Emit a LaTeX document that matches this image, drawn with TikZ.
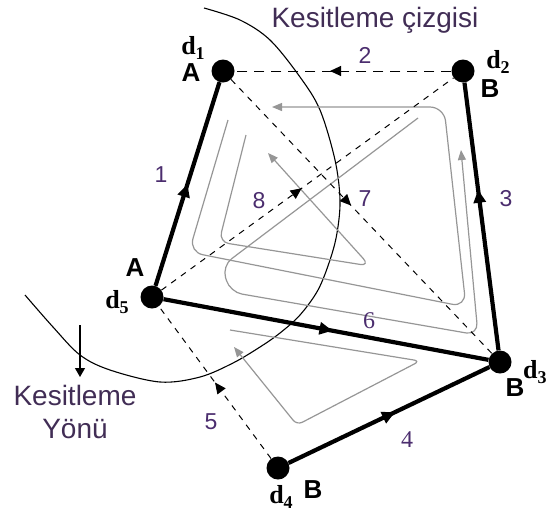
\documentclass[tikz,border=0pt]{standalone}
\usepackage{fontspec}
\setmainfont{Liberation Sans}
\newfontfamily\serifb{Liberation Serif}
\usetikzlibrary{arrows.meta,decorations.markings}
\definecolor{numc}{RGB}{75,45,110}
\definecolor{txtc}{RGB}{65,45,85}
\definecolor{grayl}{RGB}{150,150,150}
\newcommand\dlab[1]{d\raisebox{-5pt}{\fontsize{18}{18}\selectfont #1}}
\begin{document}
\begin{tikzpicture}[x=1pt,y=-1pt,
  dot/.style={circle,fill=black,inner sep=0pt,minimum size=23pt},
  thickedge/.style={line width=4.2pt},
  dashedge/.style={line width=1pt,dash pattern=on 6pt off 6pt},
  midarrow/.style={postaction={decorate,decoration={markings,mark=at position #1 with {\arrow{Triangle[length=13pt,width=12pt]}}}}},
  smallarrow/.style={postaction={decorate,decoration={markings,mark=at position #1 with {\arrow{Triangle[length=11pt,width=10pt]}}}}},
  gpath/.style={draw=grayl,line width=1.2pt,-{Triangle[length=10pt,width=8pt]}},
  num/.style={text=numc,font=\fontsize{23}{23}\selectfont,inner sep=0pt},
  numserif/.style={text=numc,font=\serifb\fontsize{24}{24}\selectfont,inner sep=0pt},
  abl/.style={font=\bfseries\fontsize{26}{26}\selectfont,inner sep=0pt},
  dl/.style={font=\serifb\bfseries\fontsize{26}{26}\selectfont,inner sep=0pt},
  big/.style={text=txtc,font=\fontsize{28}{33}\selectfont,inner sep=0pt,align=center}
]
\useasboundingbox (0,0) rectangle (551,515);

% sweep line (arc)
\draw[line width=1.1pt] plot[smooth,tension=0.55] coordinates {(204,8) (240,20) (270,40) (300,77) (320,110) (335,160) (340,200) (337,233) (330,260) (318,290) (300,315) (280,333) (260,347) (233,363) (200,377) (160,382) (110,370) (80,355) (53,327) (25,295)};

% gray paths
\draw[gpath,rounded corners=14pt] (228,120) -- (189,252) -- (466,307) -- (444,107) -- (272,107);
\draw[gpath,rounded corners=12pt] (418,118) -- (222,266) -- (230,292) -- (478,335) -- (461,150);
\draw[gpath,rounded corners=10pt] (246,135) -- (219,242) -- (370,266) -- (268,153);
\draw[gpath,rounded corners=6pt] (230,330) -- (420,361) -- (297,425) -- (234,347);

% vertices
\node[dot] (d1) at (223,71) {};
\node[dot] (d2) at (463,71) {};
\node[dot] (d3) at (500,362) {};
\node[dot] (d4) at (278,468) {};
\node[dot] (d5) at (152,297) {};

% edges
\draw[dashedge,smallarrow=0.48] (d5) -- (d2);
\draw[dashedge,smallarrow=0.46] (d1) -- (d3);
\draw[line width=1pt,dash pattern=on 10pt off 7pt,smallarrow=0.56] (d2) -- (d1);
\draw[dashedge,smallarrow=0.5] (d4) -- (d5);
\draw[thickedge,midarrow=0.5] (d5) -- (d1);
\draw[thickedge,midarrow=0.6] (d3) -- (d2);
\draw[thickedge,midarrow=0.53] (d4) -- (d3);
\draw[thickedge,midarrow=0.52] (d5) -- (d3);

% vertex labels
\node[dl] (ld1) at (193,48) {\dlab{1}};
\node[abl] (la1) at (191,73) {A};
\node[dl] (ld2) at (498,62) {\dlab{2}};
\node[abl] (lb2) at (490,89) {B};
\node[dl,anchor=west] (ld3) at (523,372) {\dlab{3}};
\node[abl] (lb3) at (515,388) {B};
\node[dl] (ld4) at (281,497) {\dlab{4}};
\node[abl] (lb4) at (313,490) {B};
\node[abl] (la5) at (135,268) {A};
\node[dl] (ld5) at (117,302) {\dlab{5}};

% edge numbers
\node[num] (n1) at (161,175) {1};
\node[num] (n2) at (365,55) {2};
\node[num] (n3) at (506,199) {3};
\node[numserif] (n4) at (407,440) {4};
\node[num] (n5) at (211,422) {5};
\node[numserif] (n6) at (369,321) {6};
\node[num] (n7) at (365,199) {7};
\node[num] (n8) at (259,201) {8};

% texts
\node[big,anchor=north] (kc) at (375,7) {Kesitleme çizgisi};
\node[big,anchor=north] (ky) at (75,385) {Kesitleme\\Yönü};

% sweep direction arrow
\coordinate (kya) at (80,325);
\coordinate (kyb) at (80,377);
\draw[line width=1.1pt,-{Triangle[length=9pt,width=10pt]}] (kya) -- (kyb);
\end{tikzpicture}
\end{document}
